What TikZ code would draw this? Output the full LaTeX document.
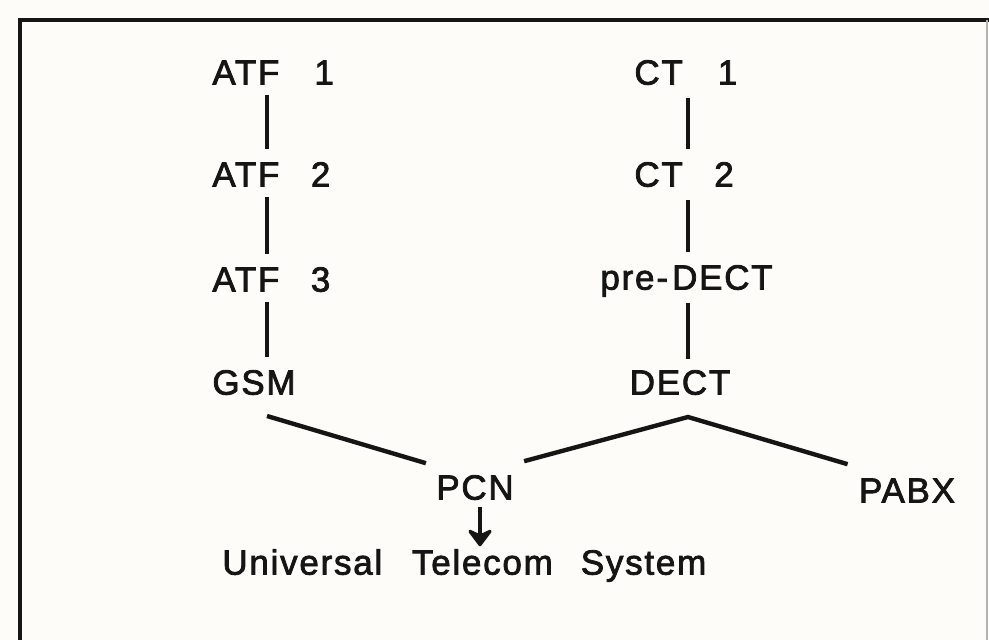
\documentclass[tikz,border=0pt]{standalone}
\usepackage{fontspec}
\setmainfont{Liberation Sans}[LetterSpace=5, FakeBold=2.2]
\usetikzlibrary{arrows.meta,calc}
\definecolor{ink}{HTML}{151515}
\definecolor{paper}{HTML}{FDFCF9}
\begin{document}
\begin{tikzpicture}[x=0.5pt,y=-0.5pt,
  lbl/.style={inner sep=0pt, text height=12pt, text depth=0pt,
              font=\fontsize{17.5}{21}\selectfont, text=ink},
  link/.style={draw=ink, line width=2pt},
  slant/.style={draw=ink, line width=2.2pt},
  frame/.style={draw=ink, line width=2pt},
  downarrow/.style={draw=ink, line width=1.8pt,
    -{Stealth[length=10pt, width=15pt, inset=3.5pt, round]}}]
% page and background
\clip (0,0) rectangle (989,640);
\fill[paper] (0,0) rectangle (989,640);
% outer frame (open below)
\draw[frame] (20,700) -- (20,20) -- (995,20);
\draw[draw=gray!60, line width=0.8pt] (987,20) -- (987,700);

% column axes
\coordinate (cL) at (267,0);
\coordinate (cR) at (688,0);
\coordinate (ax) at (480,0);

% left chain
\node[lbl, anchor=south west] (atf1) at (212,85)  {ATF\hspace{1em}1};
\node[lbl, anchor=south west] (atf2) at (212,187) {ATF\hspace{0.9em}2};
\node[lbl, anchor=south west] (atf3) at (212,292) {ATF\hspace{0.9em}3};
\node[lbl, anchor=south]      (gsm)  at (254,395) {GSM};

% right chain
\node[lbl, anchor=south west] (ct1)  at (634,85)  {CT\hspace{1em}1};
\node[lbl, anchor=south west] (ct2)  at (634,187) {CT\hspace{0.9em}2};
\node[lbl, anchor=south west] (pre)  at (600,290) {pre\kern1pt-\kern2pt DECT};
\node[lbl, anchor=south]      (dect) at (680,395) {DECT};

% convergence
\node[lbl, anchor=south] (pcn)  at (475,500) {PCN};
\node[lbl, anchor=south] (pabx) at (907,503) {PABX};
\node[lbl, anchor=south west] (uts) at (222,575)
  {Universal\hspace{0.85em}Telecom\hspace{0.8em}System};

% vertical links
\draw[link] ($(atf1.south -| cL)+(0,10)$) -- ($(atf2.north -| cL)+(0,-13)$);
\draw[link] ($(atf2.south -| cL)+(0,10)$) -- ($(atf3.north -| cL)+(0,-13)$);
\draw[link] ($(atf3.south -| cL)+(0,10)$) -- ($(gsm.north -| cL)+(0,-13)$);
\draw[link] ($(ct1.south -| cR)+(0,13)$) -- ($(ct2.north -| cR)+(0,-13)$);
\draw[link] ($(ct2.south -| cR)+(0,13)$) -- ($(pre.north -| cR)+(0,-13)$);
\draw[link] ($(pre.south -| cR)+(0,13)$) -- ($(dect.north -| cR)+(0,-11)$);

% slanted links
\draw[slant] ($(gsm.south -| cL)+(0,21)$) -- ($(pcn.north west)+(-10,-12)$);
\draw[slant] ($(pcn.north east)+(10,-14)$) -- ($(dect.south -| cR)+(0,22)$)
             -- ($(pabx.north west)+(-11,-14)$);

% arrow to the universal system
\draw[downarrow] ($(pcn.south -| ax)+(0,7)$) -- ($(uts.north -| ax)+(0,-4)$);
\end{tikzpicture}
\end{document}
